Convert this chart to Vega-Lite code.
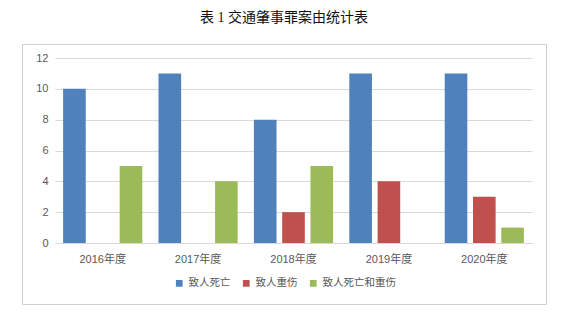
{
  "$schema": "https://vega.github.io/schema/vega-lite/v6.json",
  "autosize": {"type": "none"},
  "width": 524,
  "height": 260,
  "padding": {"left": 22, "top": 44, "right": 25, "bottom": 9},
  "title": {
    "text": "表 1 交通肇事罪案由统计表",
    "font": "Liberation Serif, Noto Sans CJK SC",
    "fontSize": 14,
    "fontWeight": "normal",
    "color": "#111111",
    "offset": 19,
    "anchor": "middle",
    "frame": "group"
  },
  "data": {
    "values": [
      {"year": "2016年度", "type": "致人死亡", "count": 10},
      {"year": "2016年度", "type": "致人重伤", "count": 0},
      {"year": "2016年度", "type": "致人死亡和重伤", "count": 5},
      {"year": "2017年度", "type": "致人死亡", "count": 11},
      {"year": "2017年度", "type": "致人重伤", "count": 0},
      {"year": "2017年度", "type": "致人死亡和重伤", "count": 4},
      {"year": "2018年度", "type": "致人死亡", "count": 8},
      {"year": "2018年度", "type": "致人重伤", "count": 2},
      {"year": "2018年度", "type": "致人死亡和重伤", "count": 5},
      {"year": "2019年度", "type": "致人死亡", "count": 11},
      {"year": "2019年度", "type": "致人重伤", "count": 4},
      {"year": "2019年度", "type": "致人死亡和重伤", "count": 0},
      {"year": "2020年度", "type": "致人死亡", "count": 11},
      {"year": "2020年度", "type": "致人重伤", "count": 3},
      {"year": "2020年度", "type": "致人死亡和重伤", "count": 1}
    ]
  },
  "mark": {"type": "bar"},
  "encoding": {
    "x": {
      "field": "year",
      "type": "nominal",
      "sort": null,
      "scale": {"range": [33, 510], "paddingInner": 0.17, "paddingOuter": 0.085},
      "axis": {
        "title": null,
        "orient": "bottom",
        "offset": -61,
        "ticks": false,
        "labelAngle": 0,
        "labelPadding": 10,
        "labelFontSize": 11,
        "labelColor": "#595959",
        "domainColor": "#d9d9d9",
        "domainWidth": 1,
        "grid": false
      }
    },
    "xOffset": {
      "field": "type",
      "type": "nominal",
      "sort": ["致人死亡", "致人重伤", "致人死亡和重伤"],
      "scale": {"paddingInner": 0.2, "paddingOuter": 0}
    },
    "y": {
      "field": "count",
      "type": "quantitative",
      "scale": {"domain": [0, 12], "range": [199, 14], "nice": false},
      "axis": {
        "title": null,
        "orient": "left",
        "offset": -30,
        "values": [0, 2, 4, 6, 8, 10, 12],
        "ticks": false,
        "domain": false,
        "labelPadding": 4,
        "labelFontSize": 11,
        "labelColor": "#595959",
        "grid": true,
        "gridColor": "#d9d9d9",
        "gridWidth": 1
      }
    },
    "color": {
      "field": "type",
      "type": "nominal",
      "scale": {
        "domain": ["致人死亡", "致人重伤", "致人死亡和重伤"],
        "range": ["#4f81bd", "#c0504d", "#9bbb59"]
      },
      "legend": {
        "title": null,
        "orient": "none",
        "direction": "horizontal",
        "legendX": 152,
        "legendY": 234,
        "symbolType": "square",
        "symbolSize": 45,
        "symbolStrokeWidth": 0,
        "labelFontSize": 10.5,
        "labelColor": "#595959",
        "labelOffset": 4,
        "columnPadding": 10
      }
    }
  },
  "config": {
    "font": "Liberation Sans, Noto Sans CJK SC",
    "view": {"stroke": "#d0d0d0", "strokeWidth": 1},
    "background": "#ffffff"
  }
}
